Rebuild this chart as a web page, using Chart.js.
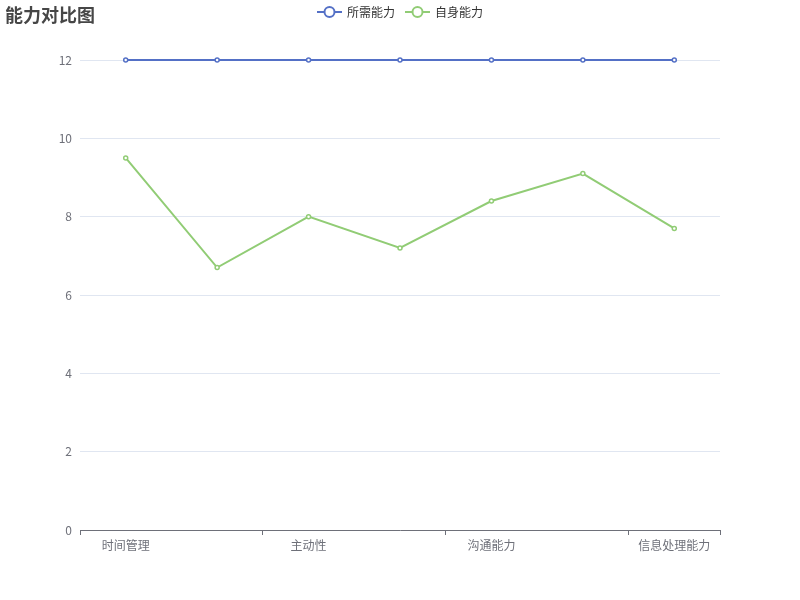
<!doctype html>
<html lang="zh">
<head>
<meta charset="utf-8">
<title>能力对比图</title>
<script src="https://cdn.jsdelivr.net/npm/chart.js@4/dist/chart.umd.min.js"></script>
<style>
  html, body { margin: 0; padding: 0; background: #fff; }
  #wrap { width: 800px; height: 600px; position: relative; }
</style>
</head>
<body>
<div id="wrap"><canvas id="chart"></canvas></div>
<script>
const titleText = '能力对比图'
// only every other category name is shown on the axis
const categories = ['时间管理', '', '主动性', '', '沟通能力', '', '信息处理能力']
const requiredAbility = [12, 12, 12, 12, 12, 12, 12]
const ownAbility = [9.5, 6.7, 8.0, 7.2, 8.4, 9.1, 7.7]
const yTicks = { min: 0, max: 12, step: 2 }

const FONT = '"Noto Sans CJK SC", "Noto Sans", sans-serif'
const axisColor = '#6E7079'

// title + echarts-like legend (line with hollow circle)
const headerPlugin = {
  id: 'header',
  afterDraw(chart) {
    const c = chart.ctx
    c.save()
    c.font = 'bold 18px ' + FONT
    c.fillStyle = '#464646'
    c.textBaseline = 'middle'
    c.textAlign = 'left'
    c.fillText(titleText, 5, 15)

    c.font = '12px ' + FONT
    const items = chart.data.datasets.map((ds) => ({
      label: ds.label,
      color: ds.borderColor,
      w: 25 + 5 + c.measureText(ds.label).width
    }))
    const gap = 10
    const total = items.reduce((s, it) => s + it.w, 0) + gap * (items.length - 1)
    let x = 400 - total / 2
    const y = 12
    items.forEach((it) => {
      c.strokeStyle = it.color
      c.lineWidth = 2
      c.beginPath()
      c.moveTo(x, y)
      c.lineTo(x + 25, y)
      c.stroke()
      c.beginPath()
      c.arc(x + 12.5, y, 5, 0, Math.PI * 2)
      c.fillStyle = '#fff'
      c.fill()
      c.stroke()
      c.fillStyle = '#333'
      c.fillText(it.label, x + 30, y)
      x += it.w + gap
    })
    c.restore()
  }
}

new Chart(document.getElementById('chart'), {
  type: 'line',
  data: {
    labels: categories,
    datasets: [
      {
        label: '所需能力',
        data: requiredAbility,
        borderColor: '#5470c6',
        backgroundColor: '#5470c6',
        borderWidth: 2,
        pointRadius: 2,
        pointBorderWidth: 1.5,
        pointBackgroundColor: '#fff',
        tension: 0,
        clip: false
      },
      {
        label: '自身能力',
        data: ownAbility,
        borderColor: '#91cc75',
        backgroundColor: '#91cc75',
        borderWidth: 2,
        pointRadius: 2,
        pointBorderWidth: 1.5,
        pointBackgroundColor: '#fff',
        tension: 0,
        clip: false
      }
    ]
  },
  options: {
    responsive: true,
    maintainAspectRatio: false,
    animation: false,
    layout: { padding: { left: 0, right: 80, top: 60, bottom: 0 } },
    plugins: {
      legend: { display: false },
      title: { display: false },
      tooltip: { enabled: false }
    },
    scales: {
      x: {
        type: 'category',
        offset: true,
        afterFit(scale) { scale.height = 70 },
        border: { display: true, color: axisColor, width: 1 },
        grid: {
          offset: true,
          drawOnChartArea: false,
          drawTicks: true,
          tickLength: 5,
          // ticks every two categories, plus the closing one at the right edge
          color: (ctx) => (ctx.type !== 'tick' || ctx.index % 2 === 0 ? axisColor : 'rgba(0,0,0,0)')
        },
        ticks: {
          autoSkip: false,
          maxRotation: 0,
          padding: 3,
          color: axisColor,
          font: { family: FONT, size: 12 },
          callback: (v, i) => (i % 2 === 0 ? categories[i] : '')
        }
      },
      y: {
        min: yTicks.min,
        max: yTicks.max,
        afterFit(scale) { scale.width = 80 },
        border: { display: false },
        grid: { color: '#E0E6F1', drawTicks: false },
        ticks: {
          stepSize: yTicks.step,
          padding: 8,
          color: axisColor,
          font: { family: FONT, size: 12 }
        }
      }
    }
  },
  plugins: [headerPlugin]
})
</script>
</body>
</html>
